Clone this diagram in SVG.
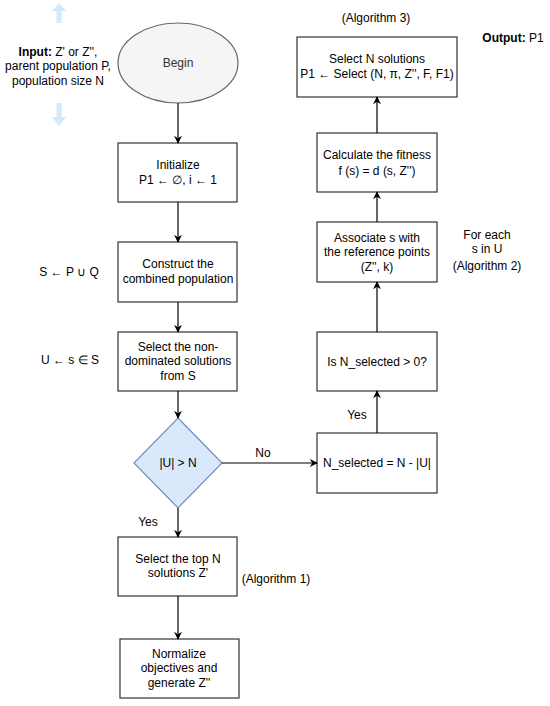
<svg xmlns="http://www.w3.org/2000/svg" width="550" height="706" viewBox="0 0 550 706">
<defs>
<marker id="ah" viewBox="0 0 10 10" refX="9" refY="5" markerWidth="8" markerHeight="8" markerUnits="userSpaceOnUse" orient="auto">
<path d="M0,0 L10,5 L0,10 L3,5 Z" fill="#000"/>
</marker>
<style>
text{font-family:"Liberation Sans",Arial,sans-serif;font-size:12px;fill:#000;text-anchor:middle;dominant-baseline:central}
.box{fill:#fff;stroke:#333;stroke-width:1.2}
.edge{fill:none;stroke:#000;stroke-width:1.2;marker-end:url(#ah)}
.note{fill:#d2eafb;stroke:none}
</style>
</defs>
<rect width="550" height="706" fill="#fff"/>

<g id="input-label">
<path class="note" d="M59,3 L66,11 L61.5,11 L61.5,23 L56.5,23 L56.5,11 L52,11 Z"/>
<path class="note" d="M56.5,103 L61.5,103 L61.5,117 L66,117 L59,126 L52,117 L56.5,117 Z"/>
<text x="58" y="52"><tspan font-weight="bold">Input:</tspan> Z' or Z'',</text>
<text x="58" y="66">parent population P,</text>
<text x="58" y="81">population size N</text>
</g>

<g id="begin">
<ellipse cx="178" cy="63" rx="60" ry="40" fill="#f5f5f5" stroke="#666" stroke-width="1.2"/>
<text x="178" y="63" style="fill:#333">Begin</text>
</g>

<g id="initialize">
<rect class="box" x="118" y="143" width="119" height="59"/>
<text x="178" y="165">Initialize</text>
<text x="178" y="180">P1 ← ∅, i ← 1</text>
</g>

<g id="construct">
<rect class="box" x="118" y="242" width="119" height="60"/>
<text x="178" y="264">Construct the</text>
<text x="178" y="279">combined population</text>
</g>
<g id="s-label"><text x="69" y="272">S ← P ∪ Q</text></g>

<g id="nondom">
<rect class="box" x="118" y="332" width="119" height="59"/>
<text x="178" y="347">Select the non-</text>
<text x="178" y="361">dominated solutions</text>
<text x="178" y="376">from S</text>
</g>
<g id="u-label"><text x="70" y="360">U ← s ∈ S</text></g>

<g id="decision">
<path d="M178,418 L222,463 L178,508 L134,463 Z" fill="#dae8fc" stroke="#6c8ebf" stroke-width="1.2"/>
<text x="178" y="463">|U| &gt; N</text>
</g>

<g id="topn">
<rect class="box" x="118" y="537" width="119" height="59"/>
<text x="178" y="559">Select the top N</text>
<text x="178" y="573">solutions Z'</text>
</g>
<g id="alg1-label"><text x="276" y="579">(Algorithm 1)</text></g>

<g id="normalize">
<rect class="box" x="120" y="639" width="119" height="59"/>
<text x="179" y="654">Normalize</text>
<text x="179" y="668">objectives and</text>
<text x="179" y="683">generate Z''</text>
</g>

<g id="nselected">
<rect class="box" x="317" y="433" width="120" height="60"/>
<text x="377" y="463">N_selected = N - |U|</text>
</g>

<g id="isnsel">
<rect class="box" x="317" y="332" width="120" height="59"/>
<text x="377" y="362">Is N_selected &gt; 0?</text>
</g>

<g id="associate">
<rect class="box" x="317" y="222" width="120" height="60"/>
<text x="377" y="238">Associate s with</text>
<text x="377" y="252">the reference points</text>
<text x="377" y="267">(Z'', k)</text>
</g>
<g id="foreach-label">
<text x="487" y="235">For each</text>
<text x="487" y="249">s in U</text>
<text x="487" y="266">(Algorithm 2)</text>
</g>

<g id="fitness">
<rect class="box" x="317" y="133" width="120" height="59"/>
<text x="377" y="155">Calculate the fitness</text>
<text x="377" y="171">f (s) = d (s, Z'')</text>
</g>

<g id="selectn">
<rect class="box" x="297" y="37" width="160" height="60"/>
<text x="377" y="59">Select N solutions</text>
<text x="377" y="74">P1 ← Select (N, π, Z'', F, F1)</text>
</g>
<g id="alg3-label"><text x="376" y="18">(Algorithm 3)</text></g>
<g id="output-label"><text x="513" y="38"><tspan font-weight="bold">Output:</tspan> P1</text></g>

<g id="connectors">
<line class="edge" x1="178" y1="103" x2="178" y2="143"/>
<line class="edge" x1="178" y1="202" x2="178" y2="242"/>
<line class="edge" x1="178" y1="302" x2="178" y2="332"/>
<line class="edge" x1="178" y1="391" x2="178" y2="418"/>
<line class="edge" x1="178" y1="508" x2="178" y2="537"/>
<line class="edge" x1="178" y1="596" x2="178" y2="639"/>
<line class="edge" x1="222" y1="463" x2="317" y2="463"/>
<line class="edge" x1="377" y1="433" x2="377" y2="391"/>
<line class="edge" x1="377" y1="332" x2="377" y2="282"/>
<line class="edge" x1="377" y1="222" x2="377" y2="192"/>
<line class="edge" x1="377" y1="133" x2="377" y2="97"/>
<text x="263" y="453">No</text>
<text x="148" y="522">Yes</text>
<text x="357" y="415">Yes</text>
</g>
</svg>
